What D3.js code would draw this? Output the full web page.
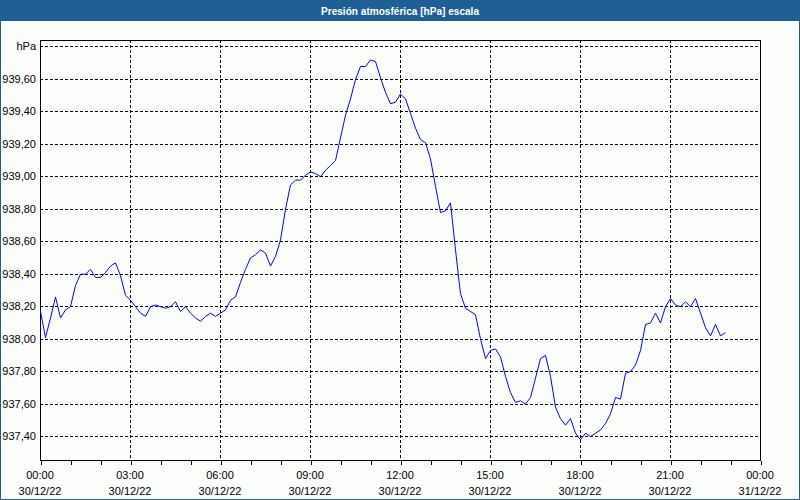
<!DOCTYPE html>
<html>
<head>
<meta charset="utf-8">
<script src="https://cdn.jsdelivr.net/npm/d3@7"></script>
<style>
  html, body { margin: 0; padding: 0; background: #fcfefc; }
  svg { display: block; }
  text { font-family: "Liberation Sans", Arial, sans-serif; }
</style>
</head>
<body>
<svg id="chart" width="800" height="500"></svg>
<script>
// Pressure readings every 10 minutes from 30/12/22 00:00
const startTime = new Date(2022, 11, 30, 0, 0)
const stepMinutes = 10
const pressure = [
  938.17, 938.01, 938.13, 938.26, 938.13, 938.18, 938.20, 938.33, 938.40, 938.40,
  938.43, 938.38, 938.38, 938.41, 938.45, 938.47, 938.39, 938.27, 938.24, 938.20,
  938.16, 938.14, 938.20, 938.21, 938.20, 938.19, 938.20, 938.23, 938.17, 938.20,
  938.16, 938.13, 938.11, 938.14, 938.16, 938.14, 938.16, 938.18, 938.24, 938.26,
  938.35, 938.43, 938.50, 938.52, 938.55, 938.53, 938.45, 938.51,
  938.61, 938.80, 938.95, 938.98, 938.98, 939.01, 939.03, 939.02, 939.00, 939.04,
  939.07, 939.10, 939.24, 939.38, 939.48, 939.60, 939.68, 939.68, 939.72, 939.71,
  939.61, 939.52, 939.45, 939.46, 939.51, 939.48, 939.39, 939.30, 939.23, 939.21,
  939.11, 938.94, 938.78, 938.79, 938.84, 938.55, 938.28, 938.19, 938.17, 938.15,
  938.00, 937.88, 937.93, 937.94, 937.89, 937.77, 937.67, 937.61, 937.62, 937.60,
  937.64, 937.76, 937.88, 937.90, 937.77, 937.58, 937.51, 937.47, 937.51, 937.42,
  937.38, 937.42, 937.40, 937.42, 937.44, 937.48, 937.54, 937.64, 937.63, 937.79,
  937.80, 937.84, 937.93, 938.09, 938.10, 938.16, 938.10, 938.20, 938.25, 938.21,
  938.20, 938.23, 938.20, 938.25, 938.16, 938.07, 938.02, 938.09, 938.02, 938.04
]
const yTicks = [937.4, 937.6, 937.8, 938.0, 938.2, 938.4, 938.6, 938.8, 939.0, 939.2, 939.4, 939.6]
const unitTick = 939.8
const unitLabel = 'hPa'
const xMajorHours = [0, 3, 6, 9, 12, 15, 18, 21, 24]
const title = 'Presión atmosférica [hPa] escala'

const width = 800
const height = 500
const plot = { left: 40, right: 760, top: 40, bottom: 460 }
const barColor = '#1e6096'

const data = pressure.map((v, i) => ({
  t: new Date(startTime.getTime() + i * stepMinutes * 60000),
  v
}))

const endTime = new Date(startTime.getTime() + 24 * 3600000)
const x = d3.scaleTime().domain([startTime, endTime]).range([plot.left, plot.right])
const y = d3.scaleLinear().domain([937.252, 939.84]).range([plot.bottom, plot.top])

const svg = d3.select('#chart')

svg.append('rect')
  .attr('width', width).attr('height', height)
  .attr('fill', '#fcfefc')

// Title bar
svg.append('rect')
  .attr('x', 0).attr('y', 0)
  .attr('width', width).attr('height', 21)
  .attr('fill', barColor)
svg.append('text')
  .attr('x', 400).attr('y', 15)
  .attr('text-anchor', 'middle')
  .attr('fill', '#ffffff')
  .attr('font-size', '11.5px')
  .attr('font-weight', 700)
  .attr('textLength', 158)
  .attr('lengthAdjust', 'spacingAndGlyphs')
  .text(title)

// Outer border
svg.append('path')
  .attr('d', `M0.5,21 V${height - 0.5} H${width - 0.5} V21`)
  .attr('fill', 'none')
  .attr('stroke', barColor)
  .attr('stroke-width', 1)

const crisp = v => Math.round(v) + 0.5

// Horizontal grid
const gridG = svg.append('g').attr('shape-rendering', 'crispEdges')
gridG.selectAll('line.hgrid')
  .data(yTicks.concat([unitTick]))
  .join('line')
  .attr('class', 'hgrid')
  .attr('x1', plot.left).attr('x2', plot.right)
  .attr('y1', d => crisp(y(d))).attr('y2', d => crisp(y(d)))
  .attr('stroke', '#000')
  .attr('stroke-dasharray', '3,2')

// Vertical grid every 3 hours
const hourTime = h => new Date(startTime.getTime() + h * 3600000)
gridG.selectAll('line.vgrid')
  .data(xMajorHours.slice(1, -1))
  .join('line')
  .attr('class', 'vgrid')
  .attr('x1', d => crisp(x(hourTime(d)))).attr('x2', d => crisp(x(hourTime(d))))
  .attr('y1', plot.top).attr('y2', plot.bottom)
  .attr('stroke', '#000')
  .attr('stroke-dasharray', '3,2')

// Frame
svg.append('rect')
  .attr('x', plot.left + 0.5).attr('y', plot.top + 0.5)
  .attr('width', plot.right - plot.left).attr('height', plot.bottom - plot.top)
  .attr('fill', 'none')
  .attr('stroke', '#000')
  .attr('shape-rendering', 'crispEdges')

// X axis: hourly ticks, labels every 3 hours
const xAxis = d3.axisBottom(x)
  .ticks(d3.timeHour.every(1))
  .tickSize(4)
  .tickFormat('')
svg.append('g')
  .attr('transform', `translate(0.5,${plot.bottom + 0.5})`)
  .attr('shape-rendering', 'crispEdges')
  .call(xAxis)
  .call(g => g.select('.domain').remove())
  .call(g => g.selectAll('line').attr('stroke', '#000'))

const fmtTime = d3.timeFormat('%H:%M')
const fmtDate = d3.timeFormat('%d/%m/%y')
const xLabels = svg.append('g')
  .selectAll('g')
  .data(xMajorHours)
  .join('g')
  .attr('transform', d => `translate(${x(hourTime(d))},0)`)
xLabels.append('text')
  .attr('y', 479)
  .attr('text-anchor', 'middle')
  .attr('font-size', '11px')
  .attr('fill', '#000')
  .text(d => fmtTime(hourTime(d)))
xLabels.append('text')
  .attr('y', 495)
  .attr('text-anchor', 'middle')
  .attr('font-size', '11px')
  .attr('fill', '#000')
  .text(d => fmtDate(hourTime(d)))

// Y labels
const fmtY = d => d3.format('.2f')(d).replace('.', ',')
svg.append('g')
  .selectAll('text')
  .data(yTicks)
  .join('text')
  .attr('x', 36)
  .attr('y', d => y(d) + 4)
  .attr('text-anchor', 'end')
  .attr('font-size', '11px')
  .attr('fill', '#000')
  .text(fmtY)
svg.append('text')
  .attr('x', 36)
  .attr('y', y(unitTick) + 4)
  .attr('text-anchor', 'end')
  .attr('font-size', '11px')
  .attr('fill', '#000')
  .text(unitLabel)

// Pressure line
const line = d3.line()
  .x(d => x(d.t) + 0.5)
  .y(d => y(d.v) + 0.5)
svg.append('path')
  .datum(data)
  .attr('d', line)
  .attr('fill', 'none')
  .attr('stroke', '#0000ff')
  .attr('stroke-width', 1)
</script>
</body>
</html>
